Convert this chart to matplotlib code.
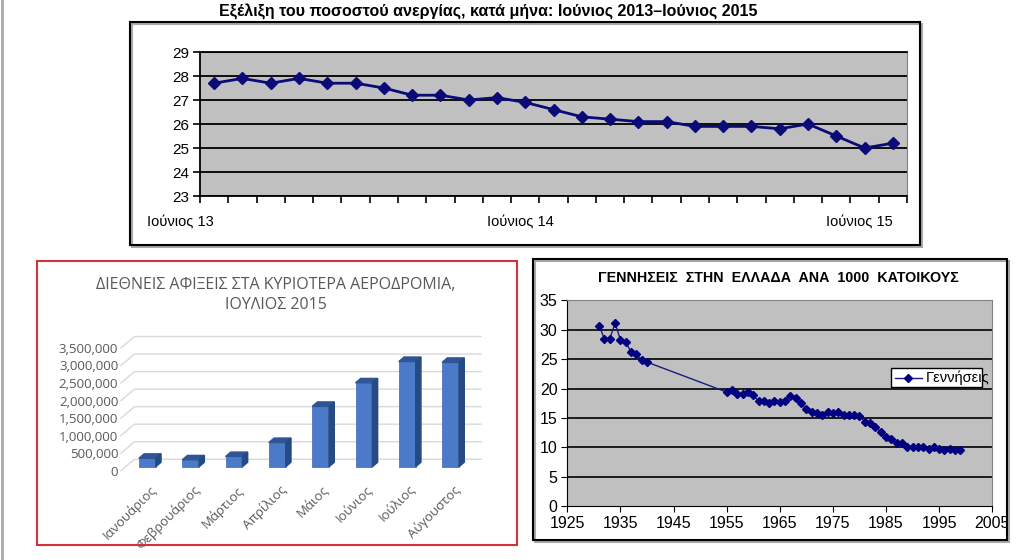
import numpy as np
import matplotlib
matplotlib.use("Agg")
import matplotlib.pyplot as plt
from matplotlib.patches import Rectangle, Polygon
from matplotlib.lines import Line2D
from matplotlib.transforms import ScaledTranslation

plt.rcParams["font.family"] = ["Liberation Sans", "DejaVu Sans"]

# ── data ──────────────────────────────────────────────────────────────────────
unemp_rate = [27.7, 27.9, 27.7, 27.9, 27.7, 27.7, 27.5, 27.2, 27.2, 27.0,
              27.1, 26.9, 26.6, 26.3, 26.2, 26.1, 26.1, 25.9, 25.9, 25.9,
              25.8, 26.0, 25.5, 25.0, 25.2]
unemp_labels = {0: "Ιούνιος 13", 12: "Ιούνιος 14", 24: "Ιούνιος 15"}

months = ["Ιανουάριος", "Φεβρουάριος", "Μάρτιος", "Απρίλιος",
          "Μάιος", "Ιούνιος", "Ιούλιος", "Αύγουστος"]
arrivals = [240000, 195000, 290000, 690000, 1720000, 2390000, 3000000, 2975000]

birth_years = list(range(1931, 1941)) + list(range(1955, 2000))
births = [30.7, 28.4, 28.5, 31.1, 28.3, 27.9, 26.2, 25.9, 24.9, 24.5,
          19.4, 19.7, 19.1, 19.0, 19.4, 18.9, 17.9, 17.9, 17.5, 17.9,
          17.7, 17.9, 18.8, 18.4, 17.5, 16.5, 16.0, 15.8, 15.5, 16.1,
          15.9, 16.0, 15.5, 15.5, 15.5, 15.3, 14.4, 14.2, 13.4, 12.7,
          11.7, 11.4, 10.7, 10.7, 10.0, 10.0, 10.0, 10.0, 9.8, 10.0,
          9.7, 9.6, 9.7, 9.5, 9.5]

# ── layout helpers (pixel boxes on a 1024x560 canvas) ─────────────────────────
W, H = 1024, 560
fig = plt.figure(figsize=(W / 100, H / 100), dpi=100)
fig.patch.set_facecolor("white")


def px_box(x0, y0, x1, y1):
    return [x0 / W, 1 - y1 / H, (x1 - x0) / W, (y1 - y0) / H]


def frame(x0, y0, x1, y1, color="black", lw=1.5, shadow=True):
    if shadow:
        fig.add_artist(Rectangle((x0 / W + 2 / W, 1 - y1 / H - 2 / H),
                                 (x1 - x0) / W, (y1 - y0) / H,
                                 transform=fig.transFigure, fill=False,
                                 edgecolor="#A8A8A8", lw=lw))
    fig.add_artist(Rectangle((x0 / W, 1 - y1 / H), (x1 - x0) / W, (y1 - y0) / H,
                             transform=fig.transFigure, fill=False,
                             edgecolor=color, lw=lw))


# thin gray page edge on the left
fig.add_artist(Line2D([0.0015, 0.0015], [0, 1], transform=fig.transFigure,
                      color="#A8A8A8", lw=2))

# ── top: unemployment ─────────────────────────────────────────────────────────
fig.text(488 / W, 1 - 12 / H,
         "Εξέλιξη του ποσοστού ανεργίας, κατά μήνα: Ιούνιος 2013–Ιούνιος 2015",
         ha="center", va="center", fontsize=11.5, fontweight="bold")
frame(130, 22, 920, 245)

ax1 = fig.add_axes(px_box(200, 52, 907, 196))
ax1.set_facecolor("#C0C0C0")
xs = np.arange(len(unemp_rate))
ax1.plot(xs, unemp_rate, color="#0A0A78", lw=2, marker="D", ms=6,
         markerfacecolor="#0A0A78", markeredgecolor="#0A0A78", zorder=3)
ax1.set_xlim(-0.5, len(unemp_rate) - 0.5)
ax1.set_ylim(23, 29)
ax1.set_yticks(range(23, 30))
ax1.yaxis.grid(True, color="black", lw=1.3)
ax1.set_axisbelow(True)
ax1.set_xticks(np.arange(-0.5, len(unemp_rate), 1), minor=True)
ax1.set_xticks(list(unemp_labels.keys()), list(unemp_labels.values()))
for lbl in ax1.get_xticklabels():
    lbl.set_ha("right")
ax1.tick_params(axis="x", which="major", length=0, pad=14, labelsize=10.5)
ax1.tick_params(axis="x", which="minor", length=5, width=1.2)
ax1.tick_params(axis="y", length=5, width=1.2, labelsize=11, pad=3)
for s in ("left", "bottom", "top"):
    ax1.spines[s].set_color("black")
    ax1.spines[s].set_linewidth(1.3)
ax1.spines["right"].set_color("#808080")

# ── bottom left: airport arrivals (3D-look columns) ───────────────────────────
frame(37, 261, 517, 545, color="#D2323C", lw=1.5, shadow=False)
greek_font = ["Open Sans", "DejaVu Sans"]
fig.text(276 / W, 1 - 295 / H,
         "ΔΙΕΘΝΕΙΣ ΑΦΙΞΕΙΣ ΣΤΑ ΚΥΡΙΟΤΕΡΑ ΑΕΡΟΔΡΟΜΙΑ,\nΙΟΥΛΙΟΣ 2015",
         ha="center", va="center", fontsize=11.5, color="#595959",
         family=greek_font, linespacing=1.3)

DX, DY = 0.31, 326000          # depth of the floor / back wall
F0, G, BW = 0.35, 0.39, 0.39   # bar front offset, bar depth, bar width
n = len(arrivals)
ax2 = fig.add_axes(px_box(121, 336.5, 481, 470.7))
ax2.set_xlim(-0.5, n - 0.5 + DX)
ax2.set_ylim(0, 3500000 + DY)
for s in ax2.spines.values():
    s.set_visible(False)
yt = np.arange(0, 3500001, 500000)
for v in yt:
    ax2.plot([-0.5, -0.5 + DX, n - 0.5 + DX], [v, v + DY, v + DY],
             color="#D9D9D9", lw=1, clip_on=False, zorder=0)
bx = np.arange(n) + F0 * DX
ax2.bar(bx, arrivals, width=BW, bottom=F0 * DY, color="#4A7AC8",
        edgecolor="#3D66AE", lw=0.5, zorder=2)
for xc, v in zip(bx, arrivals):
    x0, y0 = xc - BW / 2, F0 * DY
    top = [(x0, y0 + v), (x0 + BW, y0 + v),
           (x0 + BW + G * DX, y0 + v + G * DY), (x0 + G * DX, y0 + v + G * DY)]
    side = [(x0 + BW, y0), (x0 + BW + G * DX, y0 + G * DY),
            (x0 + BW + G * DX, y0 + v + G * DY), (x0 + BW, y0 + v)]
    ax2.add_patch(Polygon(top, closed=True, color="#2F5597", zorder=2,
                          clip_on=False))
    ax2.add_patch(Polygon(side, closed=True, color="#264A82", zorder=2,
                          clip_on=False))
ax2.set_yticks(yt, [f"{v:,.0f}" for v in yt])
ax2.set_xticks(np.arange(n), months)
ax2.tick_params(axis="y", length=0, pad=2, labelsize=9.5, labelcolor="#595959")
ax2.tick_params(axis="x", length=0, pad=9, labelsize=9.5, labelcolor="#595959")
for lbl in ax2.get_yticklabels():
    lbl.set_family(greek_font)
for lbl in ax2.get_xticklabels():
    lbl.set_family(greek_font)
    lbl.set_rotation(45)
    lbl.set_ha("right")
    lbl.set_va("top")
    lbl.set_rotation_mode("anchor")
    lbl.set_transform(lbl.get_transform() +
                      ScaledTranslation(5 / 72, 0, fig.dpi_scale_trans))

# ── bottom right: births per 1000 ─────────────────────────────────────────────
frame(533, 259, 1007, 540)
fig.text(778 / W, 1 - 278 / H,
         "ΓΕΝΝΗΣΕΙΣ  ΣΤΗΝ  ΕΛΛΑΔΑ  ΑΝΑ  1000  ΚΑΤΟΙΚΟΥΣ",
         ha="center", va="center", fontsize=10.3, fontweight="bold")

ax3 = fig.add_axes(px_box(567.3, 300.3, 992.3, 506.3))
ax3.set_facecolor("#C0C0C0")
ax3.plot(birth_years, births, color="#1A1A80", lw=1, marker="D", ms=3.8,
         markerfacecolor="#000080", markeredgecolor="#000080", zorder=3)
ax3.set_xlim(1925, 2005)
ax3.set_ylim(0, 35)
ax3.set_xticks(range(1925, 2006, 10))
ax3.set_yticks(range(0, 36, 5))
for v in range(5, 35, 5):
    ax3.axhline(v, color="black", lw=1.2, zorder=1)
ax3.tick_params(length=4, labelsize=11.5, pad=3)
ax3.spines["left"].set_color("black")
ax3.spines["bottom"].set_color("black")
ax3.spines["top"].set_color("#808080")
ax3.spines["right"].set_color("#808080")

# legend box (label clipped by its box, as in the source)
lx0, lx1, ly0, ly1 = 0.761, 0.976, 0.578, 0.670
leg_box = Rectangle((lx0, ly0), lx1 - lx0, ly1 - ly0, transform=ax3.transAxes,
                    facecolor="white", edgecolor="black", lw=1, zorder=4)
ax3.add_patch(leg_box)
ax3.add_line(Line2D([lx0 + 0.01, lx0 + 0.073], [(ly0 + ly1) / 2] * 2,
                    transform=ax3.transAxes, color="#1A1A80", lw=1, zorder=5))
ax3.plot([lx0 + 0.0415], [(ly0 + ly1) / 2], transform=ax3.transAxes,
         marker="D", ms=3.8, color="#000080", zorder=5)
t = ax3.text(lx0 + 0.083, (ly0 + ly1) / 2, "Γεννήσεις", transform=ax3.transAxes,
             ha="left", va="center", fontsize=10.5, zorder=5)
t.set_clip_path(leg_box)

fig.savefig("out.png", dpi=100)
